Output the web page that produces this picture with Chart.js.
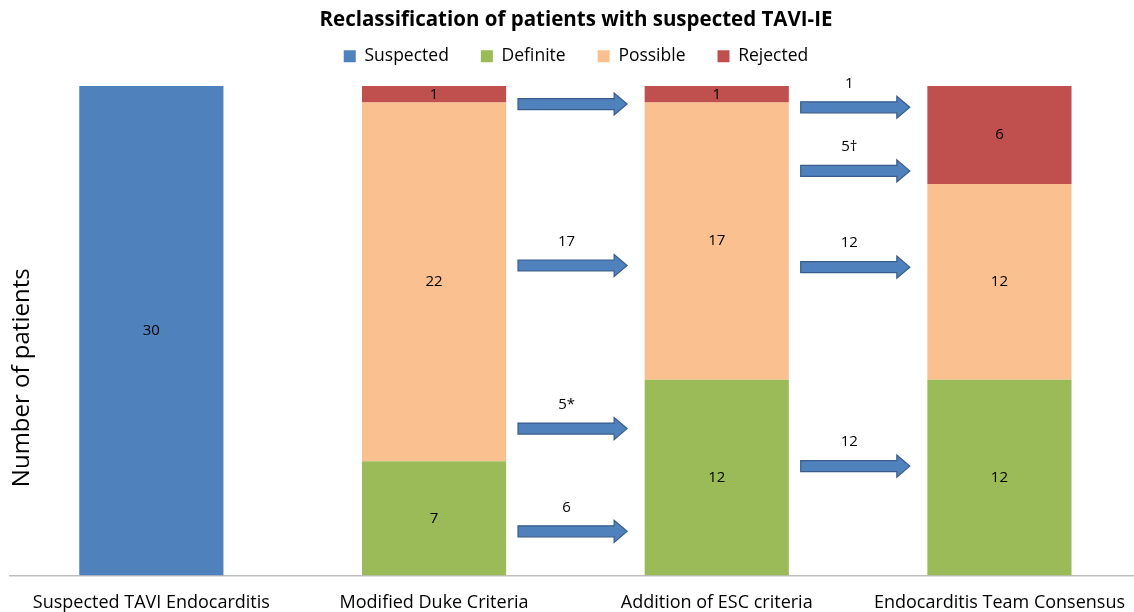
<!DOCTYPE html>
<html>
<head>
<meta charset="utf-8">
<script src="https://cdn.jsdelivr.net/npm/chart.js@4"></script>
<style>
  body { margin: 0; background: #fff; overflow: hidden; }
  #wrap { width: 1142px; height: 631px; position: relative; }
</style>
</head>
<body>
<div id="wrap"><canvas id="c"></canvas></div>
<script>
const categories = ['Suspected TAVI Endocarditis', 'Modified Duke Criteria', 'Addition of ESC criteria', 'Endocarditis Team Consensus']
const suspected = [30, null, null, null]
const definite = [null, 7, 12, 12]
const possible = [null, 22, 17, 12]
const rejected = [null, 1, 1, 6]

// arrows between bars: start category, height (patients), label
const arrowFrom = [1, 1, 1, 1, 2, 2, 2, 2]
const arrowY = [28.9, 19.0, 9.0, 2.7, 28.7, 24.8, 18.9, 6.7]
const arrowText = ['', '17', '5*', '6', '1', '5\u2020', '12', '12']

const colors = {
  suspected: '#4f81bd',
  definite: '#9bbb59',
  possible: '#fac090',
  rejected: '#c0504d',
}

const fontFam = "'Open Sans', 'Liberation Sans', sans-serif"

// extra gap under the legend
const legendGap = {
  id: 'legendGap',
  beforeInit(chart) {
    const fit = chart.legend.fit
    chart.legend.fit = function () {
      fit.bind(chart.legend)()
      this.height += 11
    }
  },
}

const valueLabels = {
  id: 'valueLabels',
  afterDatasetsDraw(chart) {
    const ctx = chart.ctx
    ctx.save()
    ctx.fillStyle = '#000'
    ctx.font = '15px ' + fontFam
    ctx.textAlign = 'center'
    ctx.textBaseline = 'middle'
    chart.data.datasets.forEach((ds, i) => {
      const meta = chart.getDatasetMeta(i)
      meta.data.forEach((bar, j) => {
        const v = ds.data[j]
        if (v == null) return
        const p = bar.getCenterPoint()
        ctx.fillText(String(v), p.x, p.y)
      })
    })
    ctx.restore()
  },
}

const arrows = {
  id: 'arrows',
  afterDatasetsDraw(chart) {
    const ctx = chart.ctx
    const xs = chart.scales.x
    const ys = chart.scales.y
    const step = xs.getPixelForValue(1) - xs.getPixelForValue(0)
    ctx.save()
    arrowFrom.forEach((from, i) => {
      const x0 = xs.getPixelForValue(from) + step * 0.297
      const x1 = xs.getPixelForValue(from) + step * 0.683
      const y = ys.getPixelForValue(arrowY[i])
      const shaft = 5.5
      const head = 11
      const headLen = 13
      ctx.beginPath()
      ctx.moveTo(x0, y - shaft)
      ctx.lineTo(x1 - headLen, y - shaft)
      ctx.lineTo(x1 - headLen, y - head)
      ctx.lineTo(x1, y)
      ctx.lineTo(x1 - headLen, y + head)
      ctx.lineTo(x1 - headLen, y + shaft)
      ctx.lineTo(x0, y + shaft)
      ctx.closePath()
      ctx.fillStyle = '#4f81bd'
      ctx.fill()
      ctx.strokeStyle = '#385d8a'
      ctx.lineWidth = 1.2
      ctx.stroke()
      if (arrowText[i]) {
        ctx.fillStyle = '#000'
        ctx.font = '15px ' + fontFam
        ctx.textAlign = 'center'
        ctx.textBaseline = 'middle'
        ctx.fillText(arrowText[i], (x0 + x1) / 2 - 6, y - 24)
      }
    })
    ctx.restore()
  },
}

const yTitle = {
  id: 'yTitle',
  afterDraw(chart) {
    const ctx = chart.ctx
    const a = chart.chartArea
    ctx.save()
    ctx.translate(22, (a.top + a.bottom) / 2 + 47)
    ctx.rotate(-Math.PI / 2)
    ctx.fillStyle = '#000'
    ctx.font = '24px ' + fontFam
    ctx.textAlign = 'center'
    ctx.textBaseline = 'middle'
    ctx.fillText('Number of patients', 0, 0)
    ctx.restore()
  },
}

window.addEventListener('load', () => {
  const ctx = document.getElementById('c').getContext('2d')
  const barOpts = { barPercentage: 0.51, categoryPercentage: 1, borderWidth: 0, stack: 's' }
  new Chart(ctx, {
    type: 'bar',
    data: {
      labels: categories,
      datasets: [
        Object.assign({ label: 'Suspected', data: suspected, backgroundColor: colors.suspected }, barOpts),
        Object.assign({ label: 'Definite', data: definite, backgroundColor: colors.definite }, barOpts),
        Object.assign({ label: 'Possible', data: possible, backgroundColor: colors.possible }, barOpts),
        Object.assign({ label: 'Rejected', data: rejected, backgroundColor: colors.rejected }, barOpts),
      ],
    },
    options: {
      responsive: true,
      maintainAspectRatio: false,
      animation: false,
      layout: { padding: { left: 10, right: 0, top: 8, bottom: 0 } },
      plugins: {
        title: {
          display: true,
          text: 'Reclassification of patients with suspected TAVI-IE',
          color: '#000',
          font: { family: fontFam, size: 20.5, weight: 'bold' },
          padding: { top: 0, bottom: -17 },
        },
        legend: {
          display: true,
          labels: {
            color: '#000',
            font: { family: fontFam, size: 17.5 },
            boxWidth: 12,
            boxHeight: 12,
            padding: 32,
          },
        },
        tooltip: { enabled: false },
      },
      scales: {
        x: {
          stacked: true,
          grid: { display: false, drawTicks: false },
          border: { display: true, color: '#bfbfbf', width: 1.5 },
          ticks: { color: '#000', font: { family: fontFam, size: 18 }, padding: 17, maxRotation: 0 },
        },
        y: {
          stacked: true,
          display: false,
          min: 0,
          max: 30,
        },
      },
    },
    plugins: [legendGap, valueLabels, arrows, yTitle],
  })
})
</script>
</body>
</html>
